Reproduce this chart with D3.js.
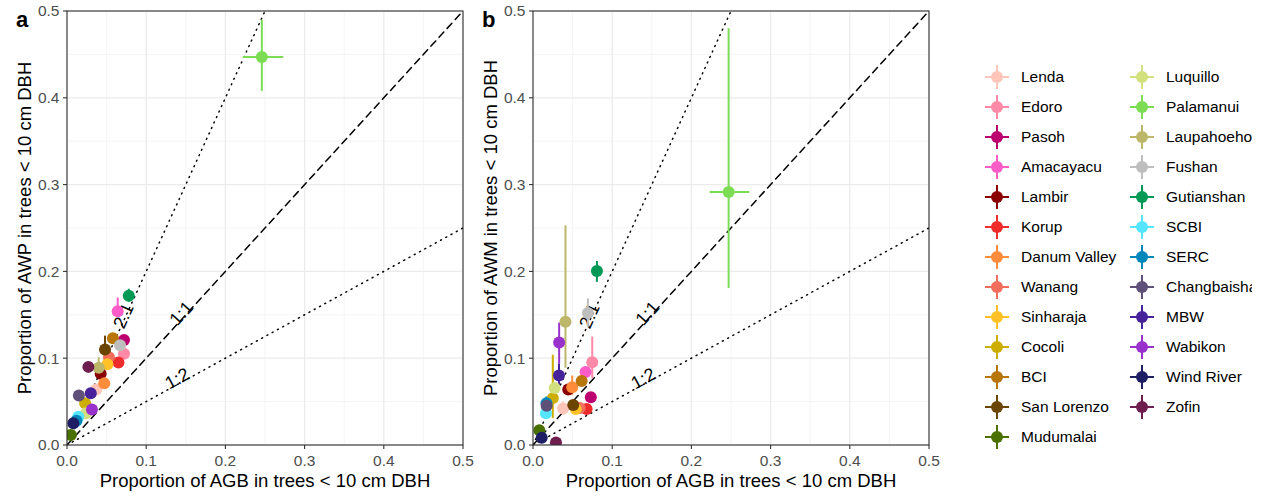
<!DOCTYPE html>
<html>
<head>
<meta charset="utf-8">
<script src="https://cdn.jsdelivr.net/npm/d3@7"></script>
<style>
  body { margin: 0; background: #fff; }
  svg { font-family: "Liberation Sans", Arial, sans-serif; }
</style>
</head>
<body>
<div id="chart"></div>
<script>
// sites in legend order
const sites = ['Lenda', 'Edoro', 'Pasoh', 'Amacayacu', 'Lambir', 'Korup', 'Danum Valley', 'Wanang',
  'Sinharaja', 'Cocoli', 'BCI', 'San Lorenzo', 'Mudumalai', 'Luquillo', 'Palamanui', 'Laupahoehoe',
  'Fushan', 'Gutianshan', 'SCBI', 'SERC', 'Changbaishan', 'MBW', 'Wabikon', 'Wind River', 'Zofin'];

const siteColors = ['#FFC5B8', '#FF8AA8', '#BC0070', '#FF5CC8', '#8B0000', '#EE2C2C', '#FF8C3A', '#F26D5B',
  '#FFC125', '#CDAD00', '#B8760A', '#6B4400', '#4A7000', '#D2E07E', '#7CDD55', '#BDB76B',
  '#BEBEBE', '#009955', '#55E5FF', '#0088BB', '#5E5078', '#46239A', '#9932CC', '#1E1E64', '#6E1E4E'];

// panel a: AGB proportion vs AWP proportion
const agbA = [0.037, 0.072, 0.072, 0.064, 0.0425, 0.065, 0.047, 0.053,
  0.051, 0.023, 0.058, 0.048, 0.005, 0.024, 0.246, 0.040,
  0.067, 0.078, 0.0143, 0.012, 0.015, 0.030, 0.0315, 0.008, 0.027];
const awpA = [0.064, 0.105, 0.121, 0.154, 0.082, 0.095, 0.071, 0.101,
  0.093, 0.048, 0.123, 0.110, 0.0115, 0.0365, 0.447, 0.089,
  0.115, 0.172, 0.0326, 0.028, 0.057, 0.0595, 0.041, 0.025, 0.090];
const awpLoA = [0.062, 0.100, 0.118, 0.150, 0.079, 0.092, 0.069, 0.098,
  0.090, 0.046, 0.120, 0.107, 0.010, 0.034, 0.408, 0.086,
  0.112, 0.165, 0.031, 0.026, 0.055, 0.057, 0.039, 0.023, 0.087];
const awpHiA = [0.066, 0.110, 0.124, 0.170, 0.085, 0.098, 0.073, 0.104,
  0.096, 0.050, 0.127, 0.126, 0.013, 0.039, 0.490, 0.101,
  0.118, 0.180, 0.034, 0.030, 0.059, 0.062, 0.043, 0.027, 0.096];

// panel b: AGB proportion vs AWM proportion
const agbB = [0.038, 0.0748, 0.073, 0.0664, 0.0445, 0.0677, 0.0495, 0.059,
  0.054, 0.025, 0.0614, 0.0508, 0.008, 0.0273, 0.247, 0.041,
  0.0693, 0.0807, 0.0164, 0.017, 0.0172, 0.0328, 0.033, 0.011, 0.029];
const awmB = [0.042, 0.0953, 0.055, 0.084, 0.064, 0.0415, 0.0664, 0.0425,
  0.0415, 0.054, 0.0737, 0.046, 0.017, 0.0657, 0.2915, 0.142,
  0.152, 0.2005, 0.0365, 0.048, 0.0453, 0.080, 0.118, 0.0084, 0.003];
const awmLoB = [0.035, 0.077, 0.050, 0.078, 0.058, 0.038, 0.058, 0.039,
  0.038, 0.031, 0.068, 0.042, 0.014, 0.058, 0.181, 0.089,
  0.136, 0.188, 0.033, 0.040, 0.041, 0.069, 0.094, 0.006, 0.001];
const awmHiB = [0.050, 0.125, 0.060, 0.090, 0.070, 0.045, 0.080, 0.046,
  0.045, 0.104, 0.080, 0.050, 0.020, 0.072, 0.480, 0.253,
  0.169, 0.212, 0.040, 0.056, 0.050, 0.094, 0.141, 0.011, 0.005];

// horizontal error only visible for Palamanui
const agbLo = [0.222, 0.223];
const agbHi = [0.273, 0.273];

const ratioLines = [
  { label: '2:1', slope: 2, dash: '1,5', lx: 0.071, ly: 0.149 },
  { label: '1:1', slope: 1, dash: '7,5', lx: 0.144, ly: 0.152 },
  { label: '1:2', slope: 0.5, dash: '1,5', lx: 0.139, ly: 0.077 }
];

const ticks = [0, 0.1, 0.2, 0.3, 0.4, 0.5];
const xTitle = 'Proportion of AGB in trees < 10 cm DBH';

const panels = [
  { tag: 'a', left: 67, yTitle: 'Proportion of AWP in trees < 10 cm DBH', xs: agbA, ys: awpA, lo: awpLoA, hi: awpHiA },
  { tag: 'b', left: 533, yTitle: 'Proportion of AWM in trees < 10 cm DBH', xs: agbB, ys: awmB, lo: awmLoB, hi: awmHiB }
];

const W = 1267, H = 496;
const plotTop = 11, pw = 396, ph = 434;
const palIdx = sites.indexOf('Palamanui');

const svg = d3.select('#chart').append('svg')
  .attr('width', W).attr('height', H);

panels.forEach((p, pi) => {
  const x = d3.scaleLinear().domain([0, 0.5]).range([p.left, p.left + pw]);
  const y = d3.scaleLinear().domain([0, 0.5]).range([plotTop + ph, plotTop]);

  const clipId = 'clip-' + p.tag;
  svg.append('clipPath').attr('id', clipId)
    .append('rect').attr('x', p.left).attr('y', plotTop).attr('width', pw).attr('height', ph);

  const g = svg.append('g');

  // grid: minor then major
  const minor = [0.05, 0.15, 0.25, 0.35, 0.45];
  g.selectAll('.minx').data(minor).join('line')
    .attr('x1', d => x(d)).attr('x2', d => x(d)).attr('y1', plotTop).attr('y2', plotTop + ph)
    .attr('stroke', '#F2F2F2').attr('stroke-width', 0.8);
  g.selectAll('.miny').data(minor).join('line')
    .attr('y1', d => y(d)).attr('y2', d => y(d)).attr('x1', p.left).attr('x2', p.left + pw)
    .attr('stroke', '#F2F2F2').attr('stroke-width', 0.8);
  g.selectAll('.majx').data(ticks).join('line')
    .attr('x1', d => x(d)).attr('x2', d => x(d)).attr('y1', plotTop).attr('y2', plotTop + ph)
    .attr('stroke', '#EBEBEB').attr('stroke-width', 1.3);
  g.selectAll('.majy').data(ticks).join('line')
    .attr('y1', d => y(d)).attr('y2', d => y(d)).attr('x1', p.left).attr('x2', p.left + pw)
    .attr('stroke', '#EBEBEB').attr('stroke-width', 1.3);

  const plot = g.append('g').attr('clip-path', `url(#${clipId})`);

  // reference ratio lines
  ratioLines.forEach(r => {
    const xEnd = Math.min(0.5, 0.5 / r.slope);
    plot.append('line')
      .attr('x1', x(0)).attr('y1', y(0))
      .attr('x2', x(xEnd)).attr('y2', y(xEnd * r.slope))
      .attr('stroke', '#000').attr('stroke-width', 1.5)
      .attr('stroke-linecap', 'round')
      .attr('stroke-dasharray', r.dash);
    const ang = Math.atan2(y(0) - y(r.slope), x(1) - x(0)) * 180 / Math.PI;
    plot.append('text')
      .attr('transform', `translate(${x(r.lx)},${y(r.ly)}) rotate(${-ang})`)
      .attr('text-anchor', 'middle').attr('dy', '0.35em')
      .attr('font-size', 18).attr('fill', '#000')
      .text(r.label);
  });

  // error bars
  sites.forEach((s, i) => {
    plot.append('line')
      .attr('x1', x(p.xs[i])).attr('x2', x(p.xs[i]))
      .attr('y1', y(p.lo[i])).attr('y2', y(p.hi[i]))
      .attr('stroke', siteColors[i]).attr('stroke-width', 2);
  });
  plot.append('line')
    .attr('x1', x(agbLo[pi])).attr('x2', x(agbHi[pi]))
    .attr('y1', y(p.ys[palIdx])).attr('y2', y(p.ys[palIdx]))
    .attr('stroke', siteColors[palIdx]).attr('stroke-width', 2);

  // points
  plot.selectAll('.pt').data(sites).join('circle')
    .attr('cx', (d, i) => x(p.xs[i]))
    .attr('cy', (d, i) => y(p.ys[i]))
    .attr('r', 6)
    .attr('fill', (d, i) => siteColors[i]);

  // panel border
  g.append('rect').attr('x', p.left).attr('y', plotTop).attr('width', pw).attr('height', ph)
    .attr('fill', 'none').attr('stroke', '#333').attr('stroke-width', 1.1);

  // axes
  const fmt = d3.format('.1f');
  g.selectAll('.xt').data(ticks).join('line')
    .attr('x1', d => x(d)).attr('x2', d => x(d)).attr('y1', plotTop + ph).attr('y2', plotTop + ph + 4)
    .attr('stroke', '#333').attr('stroke-width', 1.1);
  g.selectAll('.xl').data(ticks).join('text')
    .attr('x', d => x(d)).attr('y', 466)
    .attr('text-anchor', 'middle').attr('font-size', 15.5).attr('fill', '#4D4D4D')
    .text(fmt);
  g.selectAll('.yt').data(ticks).join('line')
    .attr('x1', p.left - 4).attr('x2', p.left).attr('y1', d => y(d)).attr('y2', d => y(d))
    .attr('stroke', '#333').attr('stroke-width', 1.1);
  g.selectAll('.yl').data(ticks).join('text')
    .attr('x', p.left - 7.5).attr('y', d => y(d)).attr('dy', '0.35em')
    .attr('text-anchor', 'end').attr('font-size', 15.5).attr('fill', '#4D4D4D')
    .text(fmt);

  g.append('text')
    .attr('x', p.left + pw / 2).attr('y', 487)
    .attr('text-anchor', 'middle').attr('font-size', 18.5).attr('fill', '#000')
    .text(xTitle);
  g.append('text')
    .attr('transform', `translate(${p.left - 36},${plotTop + ph / 2}) rotate(-90)`)
    .attr('text-anchor', 'middle').attr('font-size', 18.5).attr('fill', '#000')
    .text(p.yTitle);

  g.append('text')
    .attr('x', p.left - 51).attr('y', 27)
    .attr('font-size', 22).attr('font-weight', 'bold').attr('fill', '#000')
    .text(p.tag);
});

// legend, two columns, cut off at the right like the source figure
svg.append('clipPath').attr('id', 'clip-legend')
  .append('rect').attr('x', 960).attr('y', 0).attr('width', 292).attr('height', H);
const legend = svg.append('g').attr('clip-path', 'url(#clip-legend)');
sites.forEach((s, i) => {
  const col = i < 13 ? 0 : 1;
  const row = i < 13 ? i : i - 13;
  const cx = col === 0 ? 997 : 1142;
  const cy = 77 + row * 30;
  const item = legend.append('g');
  item.append('line').attr('x1', cx - 12).attr('x2', cx + 12).attr('y1', cy).attr('y2', cy)
    .attr('stroke', siteColors[i]).attr('stroke-width', 2);
  item.append('line').attr('x1', cx).attr('x2', cx).attr('y1', cy - 12).attr('y2', cy + 12)
    .attr('stroke', siteColors[i]).attr('stroke-width', 2);
  item.append('circle').attr('cx', cx).attr('cy', cy).attr('r', 6).attr('fill', siteColors[i]);
  item.append('text').attr('x', cx + 24).attr('y', cy).attr('dy', '0.35em')
    .attr('font-size', 15.5).attr('fill', '#000').text(s);
});
</script>
</body>
</html>
